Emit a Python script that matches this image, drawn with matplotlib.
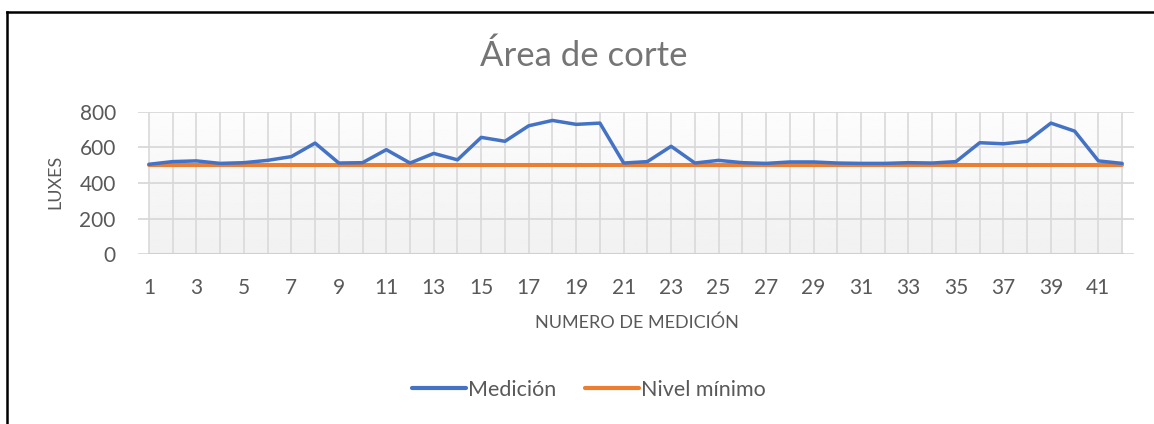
import numpy as np
import matplotlib
matplotlib.use("Agg")
import matplotlib.pyplot as plt
from matplotlib.lines import Line2D

plt.rcParams['font.family'] = ['Lato', 'DejaVu Sans']

# data
mediciones = list(range(1, 43))
medicion = [505, 520, 524, 510, 514, 527, 548, 624, 512, 514,
            587, 512, 566, 530, 656, 634, 721, 751, 729, 736,
            512, 520, 606, 512, 527, 514, 510, 518, 518, 512,
            510, 510, 514, 512, 520, 626, 620, 634, 736, 691,
            524, 510]
nivel_minimo = [500] * 42
y_ticks = [0, 200, 400, 600, 800]
x_ticks = list(range(1, 42, 2))

W, H = 1154, 424
fig = plt.figure(figsize=(W / 100, H / 100), dpi=100)

# chart frame (only left and top visible)
fig.add_artist(Line2D([7 / W, 7 / W], [0, 1 - 12 / H], color='black', lw=1.8,
                      transform=fig.transFigure))
fig.add_artist(Line2D([7 / W, 1], [1 - 12 / H, 1 - 12 / H], color='black', lw=1.8,
                      transform=fig.transFigure))

ax = fig.add_axes([138 / W, (H - 254.3) / H, (1134 - 138) / W, (254.3 - 111.7) / H])
ax.set_xlim(0.54, 42.5)
ax.set_ylim(0, 800)

# back wall with light gradient
grad = np.linspace(0.99, 0.945, 100).reshape(-1, 1)
ax.imshow(grad, extent=(1, 42, 0, 800), aspect='auto', cmap='gray',
          vmin=0, vmax=1, zorder=0, origin='upper')

for y in y_ticks:
    ax.axhline(y, color='#d9d9d9', lw=1.3, zorder=1)
for x in mediciones:
    ax.plot([x, x], [0, 800], color='#d9d9d9', lw=1.2, zorder=1)
ax.plot([1, 42], [0, 0], color='#d0d0d0', lw=2.2, zorder=1)

ax.plot(mediciones, medicion, color='#4472C4', lw=2.5, label='Medición',
        solid_capstyle='round', zorder=3)
ax.plot(mediciones, nivel_minimo, color='#ED7D31', lw=2.9, label='Nivel mínimo',
        solid_capstyle='round', zorder=2)

for s in ax.spines.values():
    s.set_visible(False)
ax.set_yticks(y_ticks)
ax.set_xticks(x_ticks)
ax.tick_params(length=0, labelsize=15, labelcolor='#595959')
ax.tick_params(axis='x', pad=17)
ax.tick_params(axis='y', pad=16)

fig.text(584 / W, 1 - 56 / H, 'Área de corte', ha='center', va='center',
         fontsize=25, color='#757575')
fig.text(637 / W, 1 - 323 / H, 'NUMERO DE MEDICIÓN', ha='center', va='center',
         fontsize=13, color='#595959')
fig.text(55 / W, 1 - 182 / H, 'LUXES', ha='center', va='center', rotation=90,
         fontsize=13, color='#595959')

leg = fig.legend(loc='center', bbox_to_anchor=(589 / W, 1 - 390 / H), ncol=2,
                 frameon=False, fontsize=15.5, handlelength=2.5, handletextpad=0.1,
                 columnspacing=1.35, labelcolor='#595959')
for h in leg.legend_handles:
    h.set_linewidth(3)

fig.savefig('out.png', dpi=100, facecolor='white')
